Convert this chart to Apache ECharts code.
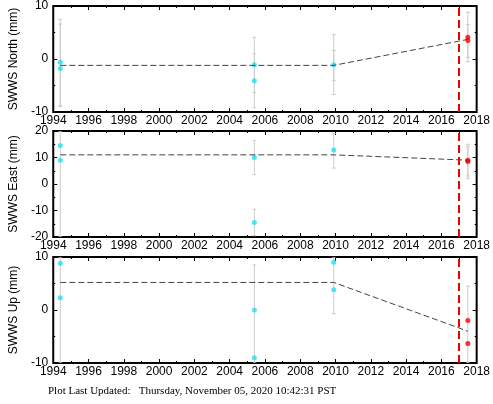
<!DOCTYPE html><html><head><meta charset="utf-8"><script src="https://cdn.jsdelivr.net/npm/echarts@6/dist/echarts.min.js"></script>
<style>body{margin:0}#c{width:493px;height:404px}</style></head><body><div id="c"></div><script>
const names=['SWWS North (mm)','SWWS East (mm)','SWWS Up (mm)'];
const yRanges=[[-10,10,10],[-20,20,10],[-10,10,10]];
const siteObs=[
 [[1994.4,-0.6],[1994.4,-1.8],[2005.4,-1.1],[2005.4,-4.1],[2009.9,-1.1]],
 [[1994.4,14.5],[1994.4,9],[2005.4,10],[2005.4,-14.5],[2009.9,12.8]],
 [[1994.4,8.8],[1994.4,2.3],[2005.4,0],[2005.4,-9],[2009.9,9],[2009.9,3.8]]];
const recentObs=[[[2017.5,4.1],[2017.5,3.5]],[[2017.5,9],[2017.5,8.5]],[[2017.5,-2],[2017.5,-6.3]]];
const errBars=[
 [[1994.4,-9,7.5],[1994.4,-8.8,6.6],[2005.4,-9.2,4.1],[2005.4,-6.3,1],[2009.9,-6.7,4.6],[2009.9,-4.1,1.6],[2017.5,-0.5,8.8],[2017.5,0.3,6.5]],
 [[1994.4,-20,20],[2005.4,3.5,16.5],[2005.4,-19.5,-9.5],[2009.9,6,19],[2017.5,3,15],[2017.5,2,14]],
 [[1994.4,-10,10],[2005.4,-10,8.5],[2009.9,-0.7,10],[2017.5,-10,4.5]]];
const trend=[[[1994.4,-1.2],[2009.9,-1.2],[2017.5,3.7]],[[1994.4,11],[2009.9,11],[2017.5,9]],[[1994.4,5.2],[2009.9,5.2],[2017.5,-4]]];
const eventYear=2017.0;
const tops=[6,131,257],h=106;
const grid=[],xAxis=[],yAxis=[],series=[];
const ff='Liberation Sans';
for(let i=0;i<3;i++){
 grid.push({left:47,width:433,top:tops[i],height:h,show:true,borderColor:'#000',borderWidth:2,backgroundColor:'#fff'});
 const xb={type:'value',gridIndex:i,min:1994,max:2018,interval:2,splitLine:{show:false},axisLine:{show:false,onZero:false},
   axisTick:{inside:true,length:4,lineStyle:{color:'#000'}},minorTick:{show:true,splitNumber:2,length:2,lineStyle:{color:'#000'}}};
 xAxis.push(Object.assign({},xb,{position:'bottom',axisLabel:{color:'#000',fontFamily:ff,fontSize:12,margin:3,formatter:v=>String(v)}}));
 xAxis.push(Object.assign({},xb,{position:'top',axisLabel:{show:false}}));
 const [mn,mx,iv]=yRanges[i];
 const yb={type:'value',gridIndex:i,min:mn,max:mx,interval:iv,splitLine:{show:false},axisLine:{show:false,onZero:false},
   axisTick:{inside:true,length:4,lineStyle:{color:'#000'}},minorTick:{show:true,splitNumber:2,length:2,lineStyle:{color:'#000'}}};
 yAxis.push(Object.assign({},yb,{position:'left',name:names[i],nameLocation:'middle',nameGap:26,nameTextStyle:{color:'#000',fontFamily:ff,fontSize:12},axisLabel:{color:'#000',fontFamily:ff,fontSize:12,margin:5}}));
 yAxis.push(Object.assign({},yb,{position:'right',axisLabel:{show:false}}));
 const xi=2*i,yi=2*i;
 series.push({type:'custom',xAxisIndex:xi,yAxisIndex:yi,data:errBars[i],clip:true,silent:true,
  renderItem:(p,api)=>{const a=api.coord([api.value(0),api.value(1)]),b=api.coord([api.value(0),api.value(2)]);
   const st={stroke:'#ccc',lineWidth:1};
   return {type:'group',children:[{type:'line',shape:{x1:a[0],y1:a[1],x2:b[0],y2:b[1]},style:st},
    {type:'line',shape:{x1:a[0]-2,y1:a[1],x2:a[0]+2,y2:a[1]},style:st},{type:'line',shape:{x1:b[0]-2,y1:b[1],x2:b[0]+2,y2:b[1]},style:st}]};}});
 series.push({type:'line',xAxisIndex:xi,yAxisIndex:yi,data:trend[i],symbol:'none',lineStyle:{color:'#444',width:1,type:[6,3]},silent:true});
 series.push({type:'line',xAxisIndex:xi,yAxisIndex:yi,data:[[eventYear,mn],[eventYear,mx]],symbol:'none',lineStyle:{color:'#e00',width:2,type:[8,4]},silent:true});
 series.push({type:'scatter',xAxisIndex:xi,yAxisIndex:yi,data:siteObs[i],symbolSize:5,itemStyle:{color:'#1ee0f8'}});
 series.push({type:'scatter',xAxisIndex:xi,yAxisIndex:yi,data:recentObs[i],symbolSize:5,itemStyle:{color:'#f00'}});
}
const ch=echarts.init(document.getElementById('c'));
ch.setOption({animation:false,grid,xAxis,yAxis,series,
 graphic:[{type:'text',left:48,top:386,style:{text:'Plot Last Updated:   Thursday, November 05, 2020 10:42:31 PST',font:'11px "Liberation Serif"',fill:'#000'}}]});
</script></body></html>
